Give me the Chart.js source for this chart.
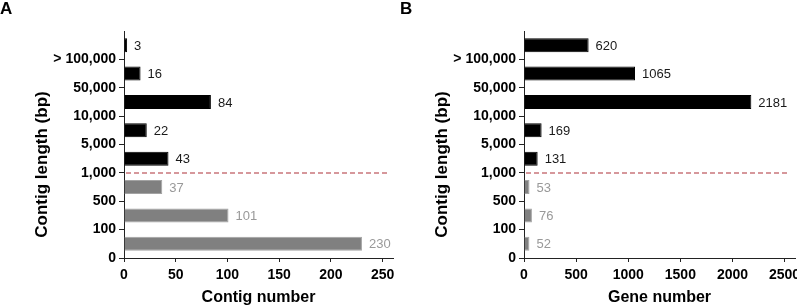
<!DOCTYPE html>
<html>
<head>
<meta charset="utf-8">
<script src="https://cdn.jsdelivr.net/npm/chart.js@4.4.0/dist/chart.umd.min.js"></script>
<style>
  html, body { margin: 0; padding: 0; background: #fff; overflow: hidden; width: 797px; height: 308px; }
  .panel { position: absolute; top: 0; height: 308px; }
  #panelA { left: 0; width: 400px; }
  #panelB { left: 400px; width: 412px; }
  .letter { position: absolute; top: 0; left: 0; font: bold 17px "Liberation Sans", Arial, sans-serif; line-height: 17px; color: #000; }
</style>
</head>
<body>
<div class="panel" id="panelA"><canvas id="chartA" width="400" height="308"></canvas><div class="letter">A</div></div>
<div class="panel" id="panelB"><canvas id="chartB" width="412" height="308"></canvas><div class="letter">B</div></div>
<script>
// bin boundaries (contig length, bp), bottom to top
const tickLabels = ['0', '100', '500', '1,000', '5,000', '10,000', '50,000', '> 100,000'];
// one value per bin, bin i lies between tickLabels[i] and the next boundary
const contigCounts = [230, 101, 37, 43, 22, 84, 16, 3];
const geneCounts = [52, 76, 53, 131, 169, 2181, 1065, 620];
const cutoffIndex = 3; // bins below 1,000 bp are drawn grey

const fontFamily = '"Liberation Sans", Arial, sans-serif';
const clear = 'rgba(0,0,0,0)';

const valueLabels = {
  id: 'valueLabels',
  afterDatasetsDraw(chart) {
    const ctx = chart.ctx;
    const meta = chart.getDatasetMeta(0);
    const data = chart.data.datasets[0].data;
    ctx.save();
    ctx.font = '13px ' + fontFamily;
    ctx.textBaseline = 'middle';
    ctx.textAlign = 'left';
    meta.data.forEach((bar, i) => {
      ctx.fillStyle = i < cutoffIndex ? '#999' : '#1a1a1a';
      ctx.fillText(String(data[i].x), bar.x + 7, bar.y + 1);
    });
    ctx.restore();
  }
};

const cutoffLine = {
  id: 'cutoffLine',
  afterDatasetsDraw(chart) {
    const ctx = chart.ctx;
    const area = chart.chartArea;
    const y = Math.round(chart.scales.y.getPixelForValue(cutoffIndex));
    ctx.save();
    ctx.strokeStyle = '#c9767b';
    ctx.lineWidth = 1.5;
    ctx.setLineDash([5, 3]);
    ctx.beginPath();
    ctx.moveTo(area.left + 2, y);
    ctx.lineTo(area.right - 6, y);
    ctx.stroke();
    ctx.restore();
  }
};

const yTitle = {
  id: 'yTitle',
  afterDraw(chart) {
    const ctx = chart.ctx;
    const area = chart.chartArea;
    ctx.save();
    ctx.translate(42, (area.top + area.bottom) / 2 + 20);
    ctx.rotate(-Math.PI / 2);
    ctx.font = 'bold 17px ' + fontFamily;
    ctx.fillStyle = '#000';
    ctx.textAlign = 'center';
    ctx.textBaseline = 'middle';
    ctx.fillText('Contig length (bp)', 0, 0);
    ctx.restore();
  }
};

function makeChart(id, values, xMax, minorStep, labelStep, xTitle, rightPad) {
  new Chart(document.getElementById(id), {
    type: 'bar',
    data: {
      datasets: [{
        data: values.map((v, i) => ({ x: v, y: i + 0.5 })),
        backgroundColor: values.map((v, i) => i < cutoffIndex ? '#808080' : '#000'),
        borderColor: values.map((v, i) => i < cutoffIndex ? '#a3a3a3' : '#000'),
        borderWidth: 1,
        borderSkipped: 'start',
        categoryPercentage: 1,
        barPercentage: 0.49
      }]
    },
    options: {
      indexAxis: 'y',
      responsive: false,
      animation: false,
      layout: { padding: { left: 0, top: 31, right: rightPad, bottom: 0 } },
      plugins: { legend: { display: false }, tooltip: { enabled: false } },
      scales: {
        x: {
          type: 'linear',
          min: 0,
          max: xMax,
          ticks: { stepSize: minorStep, includeBounds: false, autoSkip: false, maxRotation: 0,
                   color: '#000', padding: 5,
                   callback: v => v % labelStep === 0 ? String(v) : '',
                   font: { family: fontFamily, size: 14, weight: 'bold' } },
          grid: { drawOnChartArea: false, tickLength: 4,
                  tickColor: c => (c.tick && c.tick.value % labelStep === 0) ? '#222' : clear },
          border: { color: '#222', width: 1 },
          title: { display: true, text: xTitle, color: '#000', padding: { top: 4, bottom: 1 },
                   font: { family: fontFamily, size: 16, weight: 'bold' } },
          afterFit: s => { s.height = 50; s.paddingLeft = 0; s.paddingRight = 0; }
        },
        y: {
          type: 'linear',
          min: 0,
          max: tickLabels.length,
          offset: false,
          ticks: { stepSize: 1, color: '#000', padding: 3,
                   callback: v => tickLabels[v] ?? '',
                   font: { family: fontFamily, size: 14, weight: 'bold' } },
          grid: { offset: false, drawOnChartArea: false, tickLength: 5,
                  tickColor: c => (c.tick && c.tick.value >= tickLabels.length) ? clear : '#222' },
          border: { color: '#222', width: 1 },
          afterFit: s => { s.width = 124; s.paddingTop = 0; s.paddingBottom = 0; }
        }
      }
    },
    plugins: [valueLabels, cutoffLine, yTitle]
  });
}

makeChart('chartA', contigCounts, 260, 10, 50, 'Contig number', 7);
makeChart('chartB', geneCounts, 2600, 100, 500, 'Gene number', 17);
</script>
</body>
</html>
